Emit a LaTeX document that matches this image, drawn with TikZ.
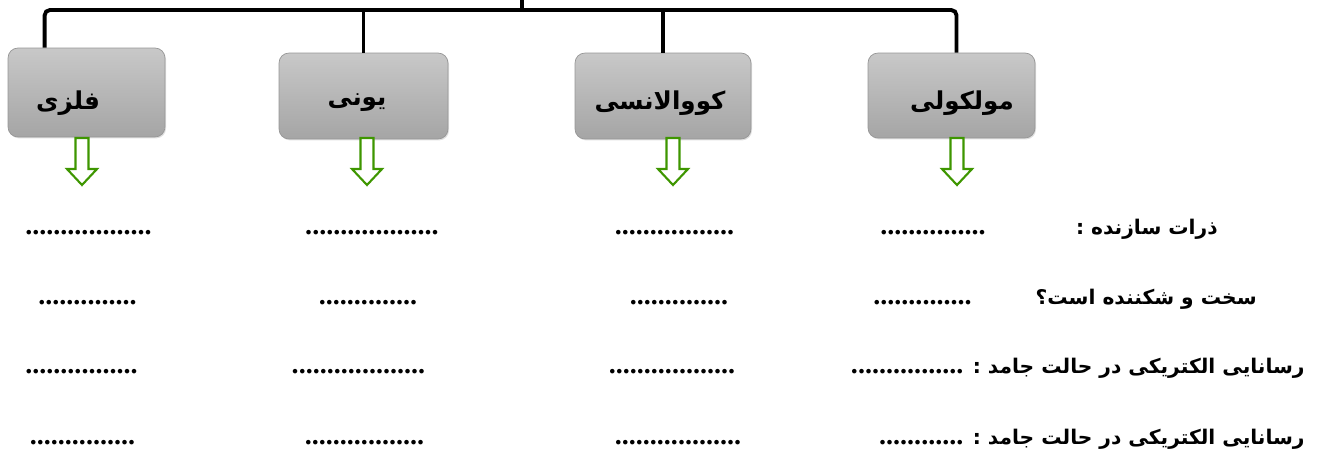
\documentclass[tikz,border=0pt]{standalone}
\usepackage{fontspec}
\usepackage{tikz}
\usetikzlibrary{shadows, calc}
\TeXXeTstate=1
\newfontfamily\fafont[Script=Arabic]{DejaVu Sans}
\newfontfamily\dotsfont{Liberation Serif}
\newcommand{\fa}[1]{\beginR #1\endR}
\newcommand{\dotrun}[1]{{\dotsfont\bfseries\fontsize{16}{18}\selectfont #1}}

\definecolor{boxtop}{RGB}{200,200,200}
\definecolor{boxbottom}{RGB}{165,165,165}
\definecolor{boxedge}{RGB}{150,150,150}
\definecolor{arrowgreen}{RGB}{62,150,0}

\tikzset{
  treeline/.style={line width=2.2pt, rounded corners=3pt},
  catbox/.style={rectangle, rounded corners=0.2cm, draw=boxedge, top color=boxtop,
    bottom color=boxbottom, drop shadow={opacity=0.25, shadow xshift=0.6pt, shadow yshift=-0.8pt},
    inner sep=0pt},
  catlabel/.style={font=\fafont\bfseries\fontsize{14}{16}\selectfont, inner sep=0pt},
  rowtext/.style={font=\fafont\bfseries\fontsize{11.5}{15}\selectfont, anchor=base east, inner sep=0pt},
  blank/.style={font=\dotsfont\bfseries\fontsize{16}{18}\selectfont, anchor=base, inner sep=0pt},
  pics/hollowarrow/.style={code={
    \draw[draw=arrowgreen, fill=white, line width=1.2pt, line join=miter]
      (-6.5,0) -- (-6.5,31) -- (-15,31) -- (0,47) -- (15,31) -- (6.5,31) -- (6.5,0) -- cycle;}}
}

\begin{document}
\begin{tikzpicture}[x=0.02cm, y=-0.02cm]
\useasboundingbox (0,0) rectangle (1325,452);

% the four kinds of solids
\node[catbox, minimum width=3.14cm, minimum height=1.78cm] (fz) at (86.5,92.5) {};
\node[catbox, minimum width=3.38cm, minimum height=1.72cm] (yn) at (363.5,96) {};
\node[catbox, minimum width=3.52cm, minimum height=1.72cm] (kv) at (663,96) {};
\node[catbox, minimum width=3.34cm, minimum height=1.70cm] (mk) at (951.5,95.5) {};
\node[catlabel] (fzt) at (68,103) {\fa{فلزی}};
\node[catlabel] (ynt) at (357,103) {\fa{یونی}};
\node[catlabel] (kvt) at (660,103) {\fa{کووالانسی}};
\node[catlabel] (mkt) at (962,103) {\fa{مولکولی}};

% tree on top
\coordinate (root) at (522,0);
\coordinate (hub) at (522,10);
\draw[treeline] ([xshift=0.74cm]fz.north west) |- (hub) -| ([xshift=0.1cm]mk.north);
\draw[treeline] (root) -- (hub);
\draw[treeline] (yn.north) -- (yn.north |- hub);
\draw[treeline] (kv.north) -- (kv.north |- hub);

% green arrows
\pic at (82,138) {hollowarrow};
\pic at (367,138) {hollowarrow};
\pic at (673,138) {hollowarrow};
\pic at (957,138) {hollowarrow};

% questions
\node[rowtext] (q1) at (1218,235) {\fa{ذرات سازنده :}};
\node[rowtext] (q2) at (1257,305) {\fa{سخت و شکننده است؟}};
\node[rowtext] (q3) at (1305,374) {\fa{رسانایی الکتریکی در حالت جامد : \dotrun{................}}};
\node[rowtext] (q4) at (1305,444) {\fa{رسانایی الکتریکی در حالت جامد : \dotrun{............}}};

% blanks
\node[blank] (b11) at (88.5,235) {..................};
\node[blank] (b12) at (87.5,305) {..............};
\node[blank] (b13) at (81.5,374) {................};
\node[blank] (b14) at (82.5,444) {...............};
\node[blank] (b21) at (372,235) {...................};
\node[blank] (b22) at (368,305) {..............};
\node[blank] (b23) at (358.5,374) {...................};
\node[blank] (b24) at (364.5,444) {.................};
\node[blank] (b31) at (674.5,235) {.................};
\node[blank] (b32) at (679,305) {..............};
\node[blank] (b33) at (672,374) {..................};
\node[blank] (b34) at (678,444) {..................};
\node[blank] (b41) at (933,235) {...............};
\node[blank] (b42) at (922.5,305) {..............};
\end{tikzpicture}
\end{document}
